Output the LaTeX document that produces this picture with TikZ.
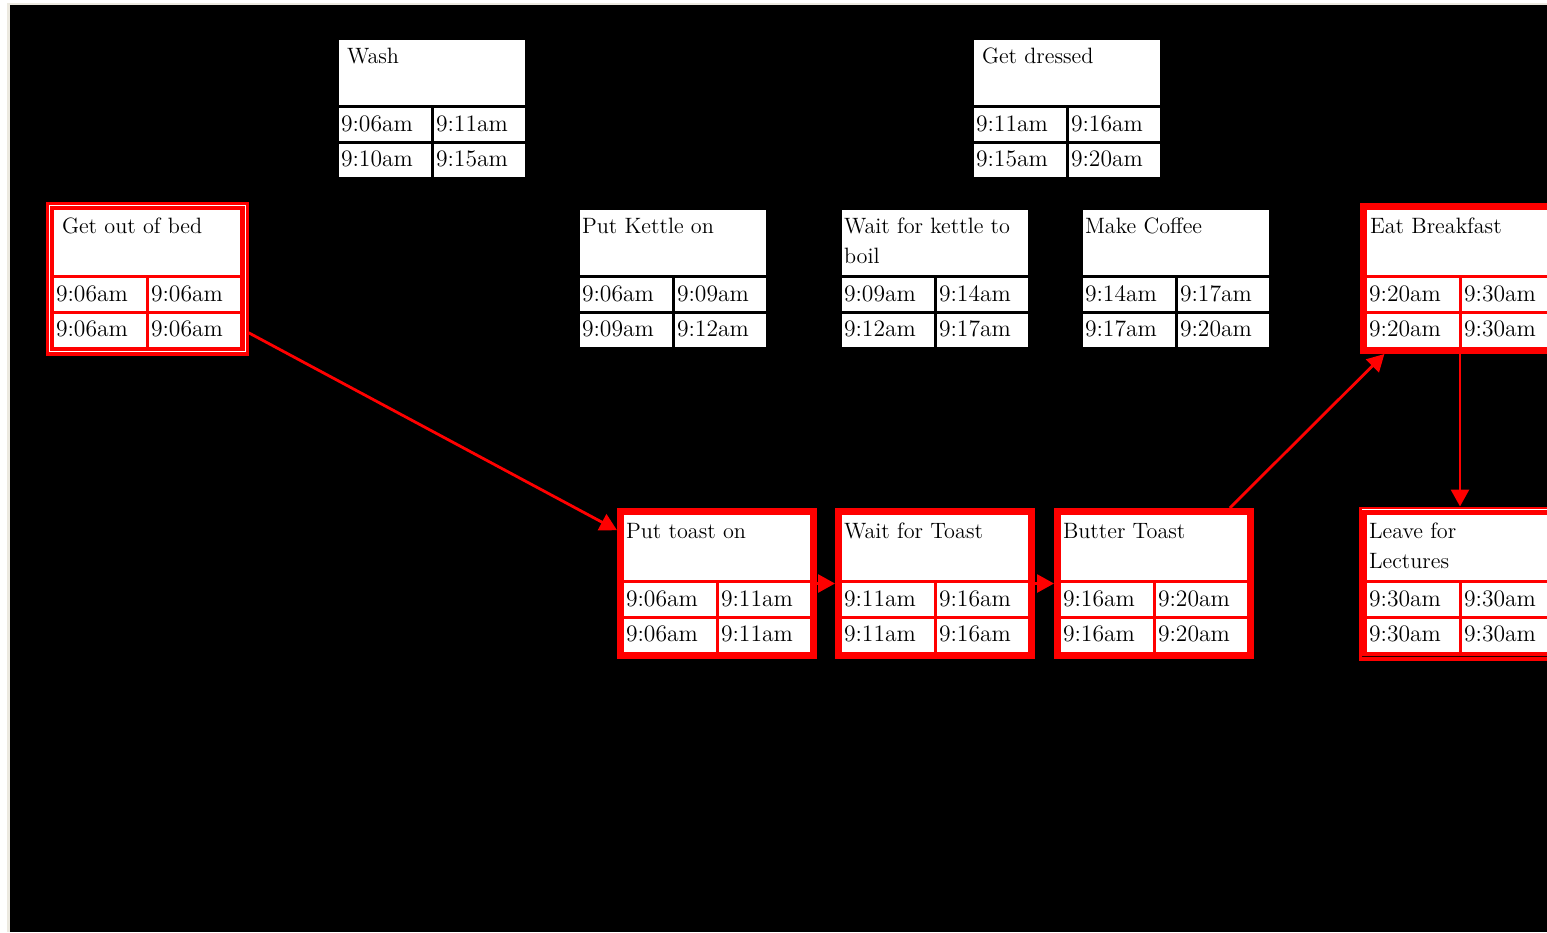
\documentclass[tikz,border=0pt]{standalone}
\usetikzlibrary{arrows.meta}
\definecolor{edge}{RGB}{236,233,224}
\definecolor{crit}{RGB}{255,0,0}
\definecolor{darkline}{RGB}{40,0,0}
\tikzset{
  px/.style={x=0.5pt,y=-0.5pt},
  cell/.style={fill=white,draw=none},
  txt/.style={inner sep=0pt,outer sep=0pt,anchor=base west,text=black,font=\fontsize{11.8pt}{15pt}\selectfont},
  ttl/.style={txt,font=\fontsize{11.1pt}{15pt}\selectfont},
  framebox/.style={rectangle,inner sep=0pt,outer sep=0pt,draw=none},
  plainframe/.style={framebox,fill=black,minimum width=93pt,minimum height=68.5pt},
  critframe/.style={framebox,fill=crit,minimum width=100pt,minimum height=75.5pt},
  critdouble/.style={framebox,fill=crit,minimum width=101.5pt,minimum height=77pt},
  innerline/.style={draw=white,line width=0.75pt},
  critarrow/.style={draw=crit,line width=1.4pt,-{Triangle[length=8.5pt,width=9pt]}},
}
% #1 name, #2 X, #3 Y, #4 frame style, #5 indent, #6 title line 1, #7 title line 2
\newcommand{\taskbox}[7]{%
  \node[#4] (#1) at ({#2+93},{#3+68.5}) {};
  \fill[cell] (#2,#3) rectangle ({#2+186},{#3+65});
  \fill[cell] (#2,{#3+68}) rectangle ({#2+92},{#3+101});
  \fill[cell] ({#2+95},{#3+68}) rectangle ({#2+186},{#3+101});
  \fill[cell] (#2,{#3+104}) rectangle ({#2+92},{#3+137});
  \fill[cell] ({#2+95},{#3+104}) rectangle ({#2+186},{#3+137});
  \node[ttl] (#1-t1) at ({#2+#5},{#3+23.5}) {#6};
  \node[ttl] (#1-t2) at ({#2+#5},{#3+53.5}) {#7};
}
% #1 name, #2 X, #3 Y, #4..#7 times
\newcommand{\tasktimes}[7]{%
  \node[txt] (#1-a) at ({#2+2},{#3+91.5}) {#4};
  \node[txt] (#1-b) at ({#2+97},{#3+91.5}) {#5};
  \node[txt] (#1-c) at ({#2+2},{#3+126.5}) {#6};
  \node[txt] (#1-d) at ({#2+97},{#3+126.5}) {#7};
}
\begin{document}
\begin{tikzpicture}[px]
\useasboundingbox (0,0) rectangle (1547,932);
\clip (0,0) rectangle (1547,932);
\fill[white] (0,0) rectangle (1547,932);
\fill[edge] (7,3) rectangle (1547,932);
\fill[black] (10,5) rectangle (1547,932);

% plain tasks
\taskbox{wash}{339}{40}{plainframe}{8}{Wash}{}
\tasktimes{wash}{339}{40}{9:06am}{9:11am}{9:10am}{9:15am}
\taskbox{dressed}{974}{40}{plainframe}{8}{Get dressed}{}
\tasktimes{dressed}{974}{40}{9:11am}{9:16am}{9:15am}{9:20am}
\taskbox{kettle}{580}{210}{plainframe}{2}{Put Kettle on}{}
\tasktimes{kettle}{580}{210}{9:06am}{9:09am}{9:09am}{9:12am}
\taskbox{boil}{842}{210}{plainframe}{2}{Wait for kettle to}{boil}
\tasktimes{boil}{842}{210}{9:09am}{9:14am}{9:12am}{9:17am}
\taskbox{coffee}{1083}{210}{plainframe}{2}{Make Coffee}{}
\tasktimes{coffee}{1083}{210}{9:14am}{9:17am}{9:17am}{9:20am}

% critical tasks
\taskbox{bed}{54}{210}{critdouble}{8}{Get out of bed}{}
\draw[innerline] (49.3,205.3) rectangle (245.7,351.7);
\tasktimes{bed}{54}{210}{9:06am}{9:06am}{9:06am}{9:06am}
\taskbox{toast}{624}{515}{critframe}{2}{Put toast on}{}
\tasktimes{toast}{624}{515}{9:06am}{9:11am}{9:06am}{9:11am}
\taskbox{waittoast}{842}{515}{critframe}{2}{Wait for Toast}{}
\tasktimes{waittoast}{842}{515}{9:11am}{9:16am}{9:11am}{9:16am}
\taskbox{butter}{1061}{515}{critframe}{2}{Butter Toast}{}
\tasktimes{butter}{1061}{515}{9:16am}{9:20am}{9:16am}{9:20am}
\taskbox{eat}{1367}{210}{critframe}{3}{Eat Breakfast}{}
\tasktimes{eat}{1367}{210}{9:20am}{9:30am}{9:20am}{9:30am}
\taskbox{leave}{1367}{515}{critdouble}{2}{Leave for}{Lectures}
\draw[draw=white,line width=0.6pt] (1362,509.5) -- (1547,509.5);
\draw[draw=darkline,line width=0.6pt] (1362,656.5) -- (1547,656.5);
\tasktimes{leave}{1367}{515}{9:30am}{9:30am}{9:30am}{9:30am}

% connectors
\draw[critarrow] (bed) -- (toast);
\draw[critarrow] (toast) -- (waittoast);
\draw[critarrow] (waittoast) -- (butter);
\draw[critarrow] (butter) -- (eat);
\draw[critarrow] (eat) -- (leave);
\end{tikzpicture}
\end{document}
